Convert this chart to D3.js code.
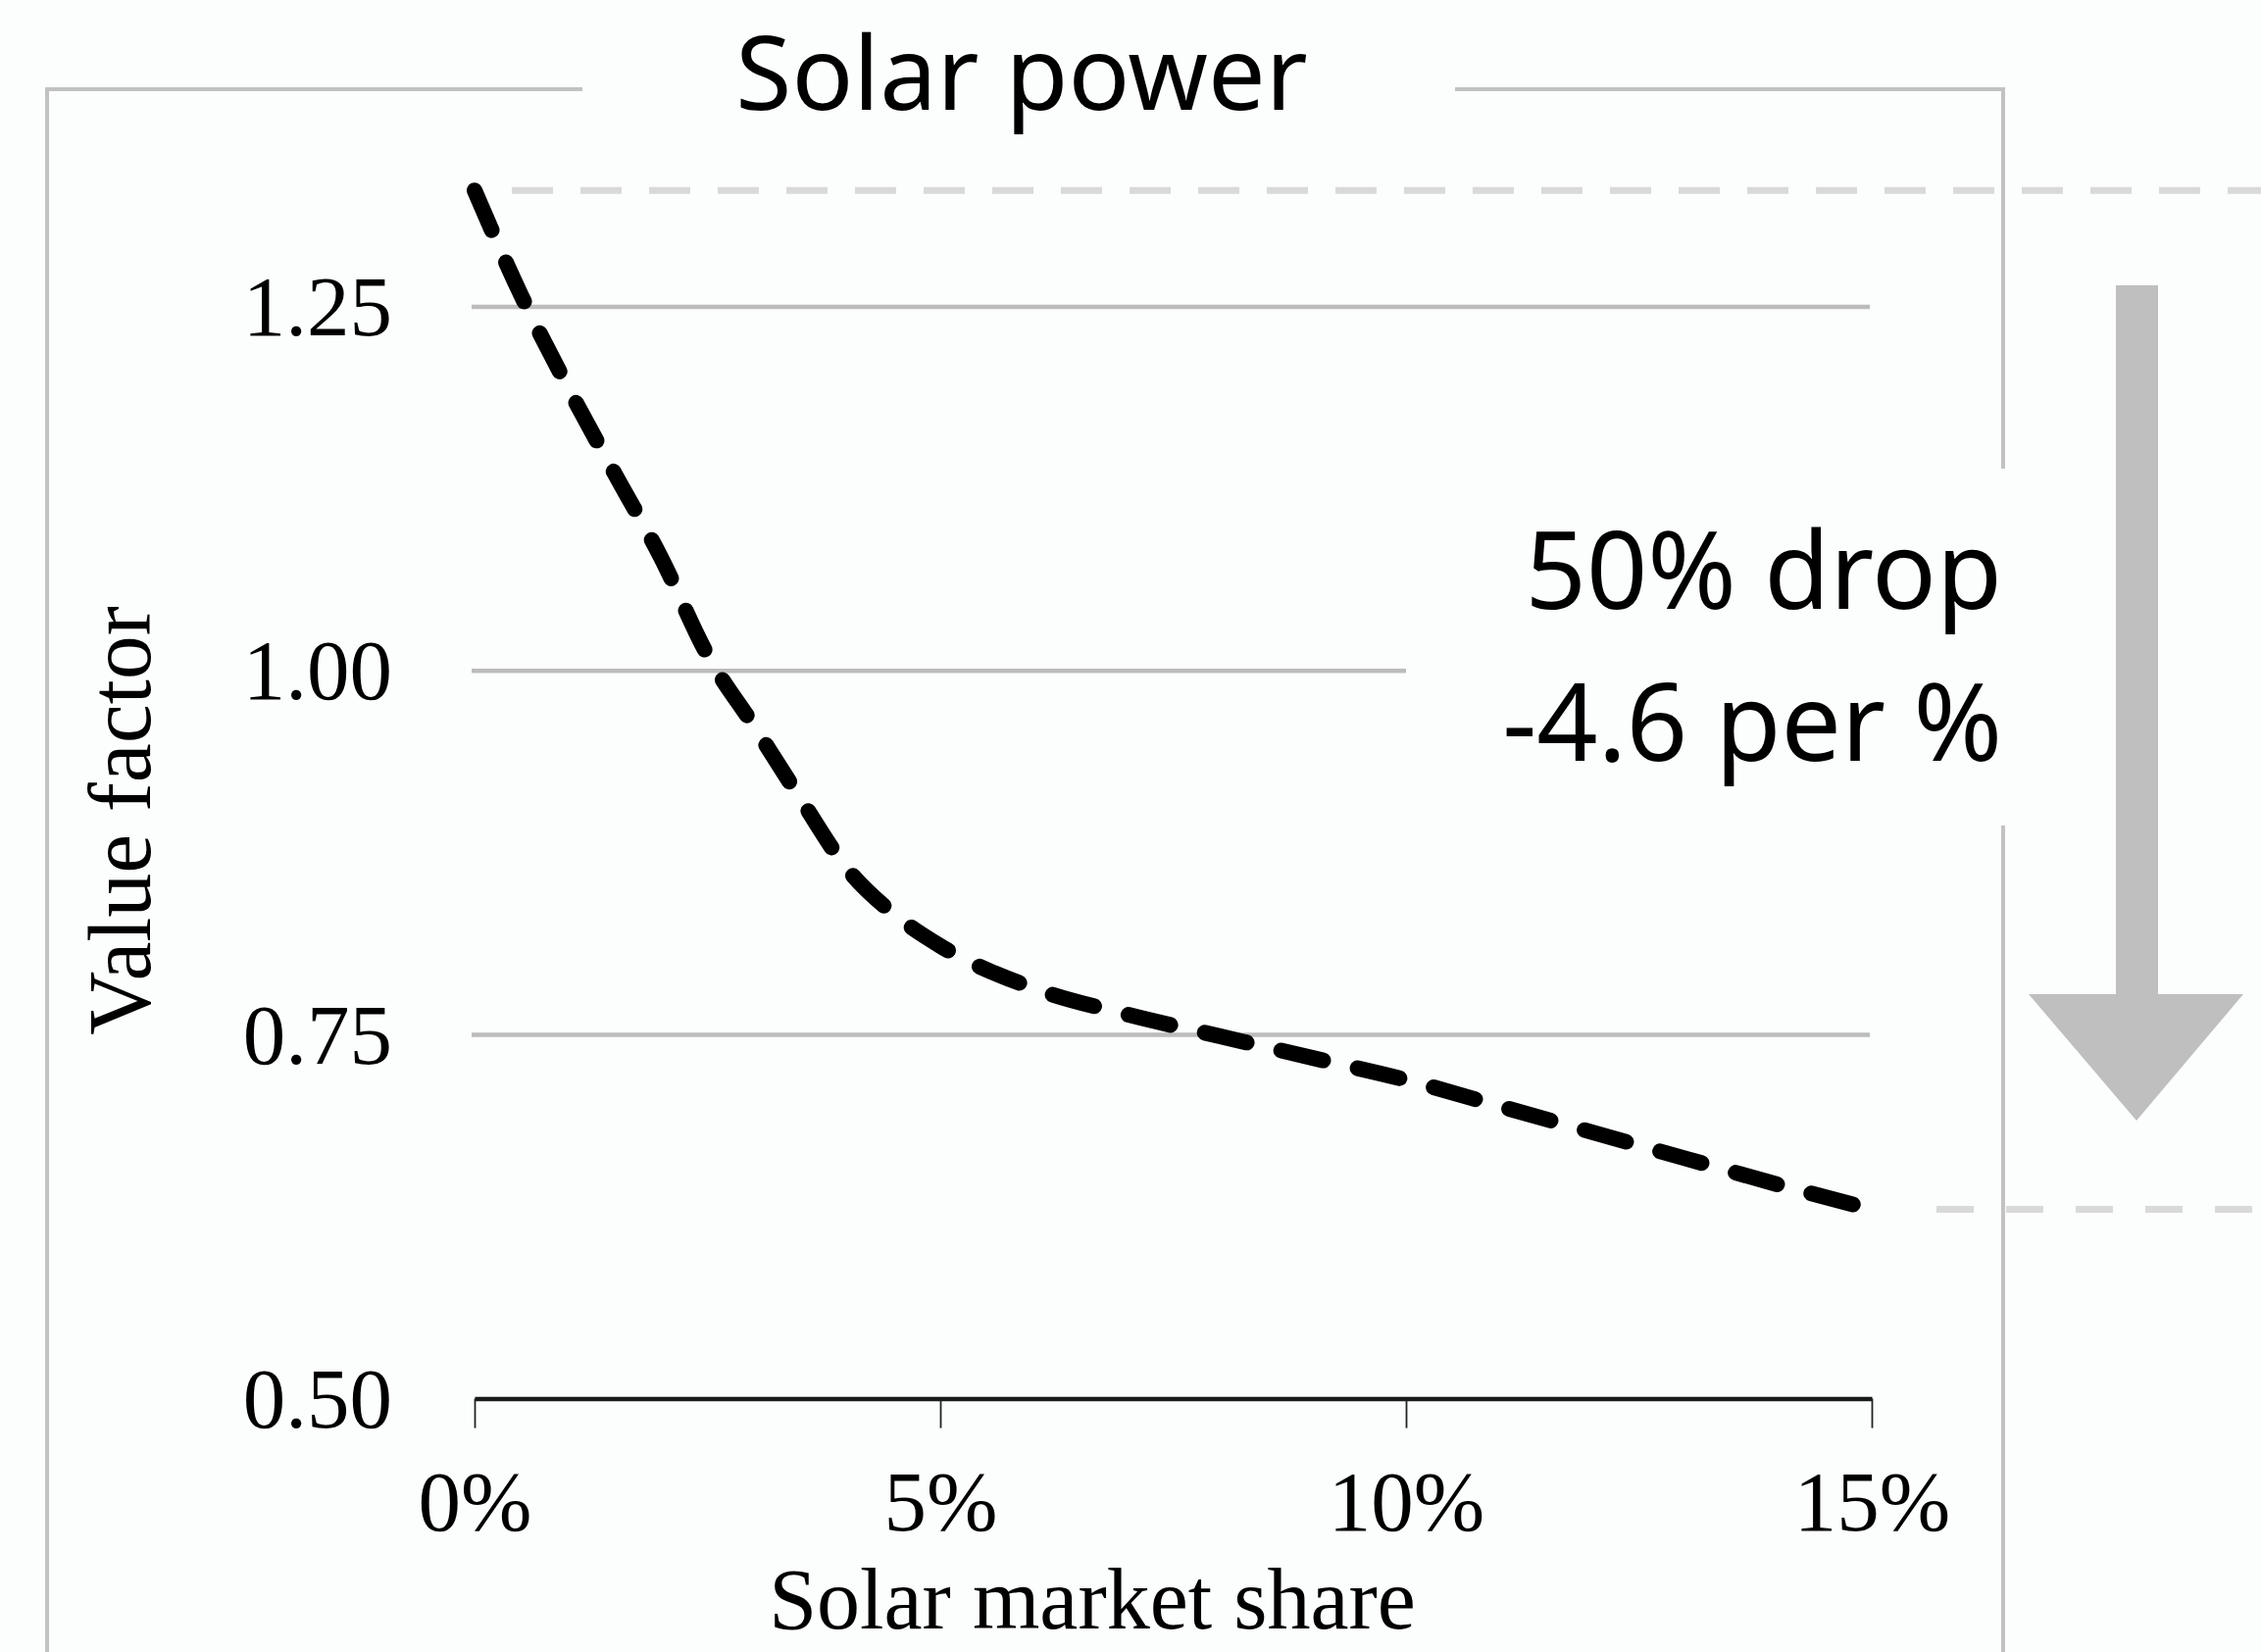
<!DOCTYPE html>
<html>
<head>
<meta charset="utf-8">
<script src="https://cdn.jsdelivr.net/npm/d3@7"></script>
<style>
  html, body { margin: 0; padding: 0; background: #fbfefc; }
  svg { display: block; }
</style>
</head>
<body>
<div id="chart"></div>
<script>
// ---- data ----
const marketShare = [0, 0.5, 1, 1.5, 2, 2.5, 3, 3.5, 4, 4.5, 5, 6, 7, 8, 9, 10, 11, 12, 13, 14, 15];
const valueFactor = [1.33, 1.258, 1.195, 1.136, 1.078, 1.011, 0.962, 0.912, 0.864, 0.833, 0.811, 0.782, 0.764, 0.749, 0.734, 0.719, 0.701, 0.683, 0.665, 0.647, 0.630];
const xTicks = [0, 5, 10, 15];
const yTicks = [0.50, 0.75, 1.00, 1.25];
const gridValues = [0.75, 1.00, 1.25];
const refValues = [1.33, 0.63];
const titleText = "Solar power";
const xTitle = "Solar market share";
const yTitle = "Value factor";
const noteLines = ["50% drop", "-4.6 per %"];

// ---- layout ----
const W = 2306, H = 1685;
const bg = "#fbfefc";
const serif = "'Liberation Serif', 'Times New Roman', serif";
const sans = "'Noto Sans', 'Open Sans', sans-serif";

const svg = d3.select("#chart").append("svg")
  .attr("width", W).attr("height", H);
svg.append("rect").attr("width", W).attr("height", H).attr("fill", bg);

const x = d3.scaleLinear().domain([0, 15]).range([484, 1909]);
const y = d3.scaleLinear().domain([0.5, 1.25]).range([1426.6, 313]);

// frame
const frameColor = "#c2c2c2";
const frame = svg.append("g").attr("stroke", frameColor).attr("stroke-width", 4).attr("fill", "none");
frame.append("line").attr("x1", 48).attr("x2", 48).attr("y1", 91).attr("y2", H);
frame.append("line").attr("x1", 46).attr("x2", 594).attr("y1", 91).attr("y2", 91);
frame.append("line").attr("x1", 1484).attr("x2", 2045).attr("y1", 91).attr("y2", 91);
frame.append("line").attr("x1", 2043).attr("x2", 2043).attr("y1", 89).attr("y2", H);

// gridlines
svg.append("g").selectAll("line").data(gridValues).join("line")
  .attr("x1", x(0) - 3).attr("x2", x(15) - 2)
  .attr("y1", d => y(d)).attr("y2", d => y(d))
  .attr("stroke", "#bcbcbc").attr("stroke-width", 4.5);

// reference dashed lines
svg.append("line")
  .attr("x1", 522).attr("x2", W).attr("y1", y(refValues[0])).attr("y2", y(refValues[0]))
  .attr("stroke", "#d9d9d9").attr("stroke-width", 7).attr("stroke-dasharray", "42,28");
svg.append("line")
  .attr("x1", 1975).attr("x2", W).attr("y1", y(refValues[1])).attr("y2", y(refValues[1]))
  .attr("stroke", "#d9d9d9").attr("stroke-width", 7).attr("stroke-dasharray", "38,33");

// x axis
const xAxis = svg.append("g")
  .attr("transform", `translate(0,${y(0.5)})`)
  .call(d3.axisBottom(x).tickValues(xTicks).tickFormat(d => d + "%").tickSize(30).tickSizeOuter(0));
xAxis.select(".domain").attr("stroke", "#1a1a1a").attr("stroke-width", 4.5);
xAxis.selectAll(".tick line").attr("stroke", "#222").attr("stroke-width", 1.8);
xAxis.selectAll(".tick text")
  .attr("y", 134).attr("dy", null)
  .attr("font-family", serif).attr("font-size", 87).attr("fill", "#000");

// y axis labels
const yAxis = svg.append("g")
  .attr("transform", `translate(${x(0)},0)`)
  .call(d3.axisLeft(y).tickValues(yTicks).tickFormat(d3.format(".2f")).tickSize(0));
yAxis.select(".domain").remove();
yAxis.selectAll(".tick text")
  .attr("x", -84).attr("dy", "0.33em")
  .attr("font-family", serif).attr("font-size", 87).attr("fill", "#000");

// axis titles
svg.append("text")
  .attr("x", 1114).attr("y", 1661).attr("text-anchor", "middle")
  .attr("font-family", serif).attr("font-size", 88).attr("fill", "#000")
  .text(xTitle);
svg.append("text")
  .attr("transform", "translate(153,837) rotate(-90)")
  .attr("text-anchor", "middle")
  .attr("font-family", serif).attr("font-size", 90).attr("fill", "#000")
  .text(yTitle);

// curve
const line = d3.line()
  .x((d, i) => x(marketShare[i]))
  .y(d => y(d))
  .curve(d3.curveMonotoneX);
svg.append("path")
  .datum(valueFactor)
  .attr("d", line)
  .attr("fill", "none").attr("stroke", "#000")
  .attr("stroke-width", 16)
  .attr("stroke-dasharray", "44,36")
  .attr("stroke-linecap", "round");

// white box behind annotation
svg.append("rect")
  .attr("x", 1434).attr("y", 478).attr("width", 626).attr("height", 364)
  .attr("fill", bg);

// annotation text
svg.append("g").selectAll("text").data(noteLines).join("text")
  .attr("x", 2042).attr("y", (d, i) => 621 + i * 155)
  .attr("text-anchor", "end")
  .attr("font-family", sans).attr("font-size", 109).attr("fill", "#000")
  .text(d => d);

// arrow
svg.append("rect")
  .attr("x", 2158).attr("y", 291).attr("width", 43).attr("height", 724)
  .attr("fill", "#bfbfbf");
svg.append("path")
  .attr("d", "M2069,1014 L2288,1014 L2179,1143 Z")
  .attr("fill", "#bfbfbf");

// title
svg.append("text")
  .attr("x", 1042).attr("y", 112).attr("text-anchor", "middle")
  .attr("font-family", sans).attr("font-size", 104).attr("fill", "#000")
  .text(titleText);
</script>
</body>
</html>
